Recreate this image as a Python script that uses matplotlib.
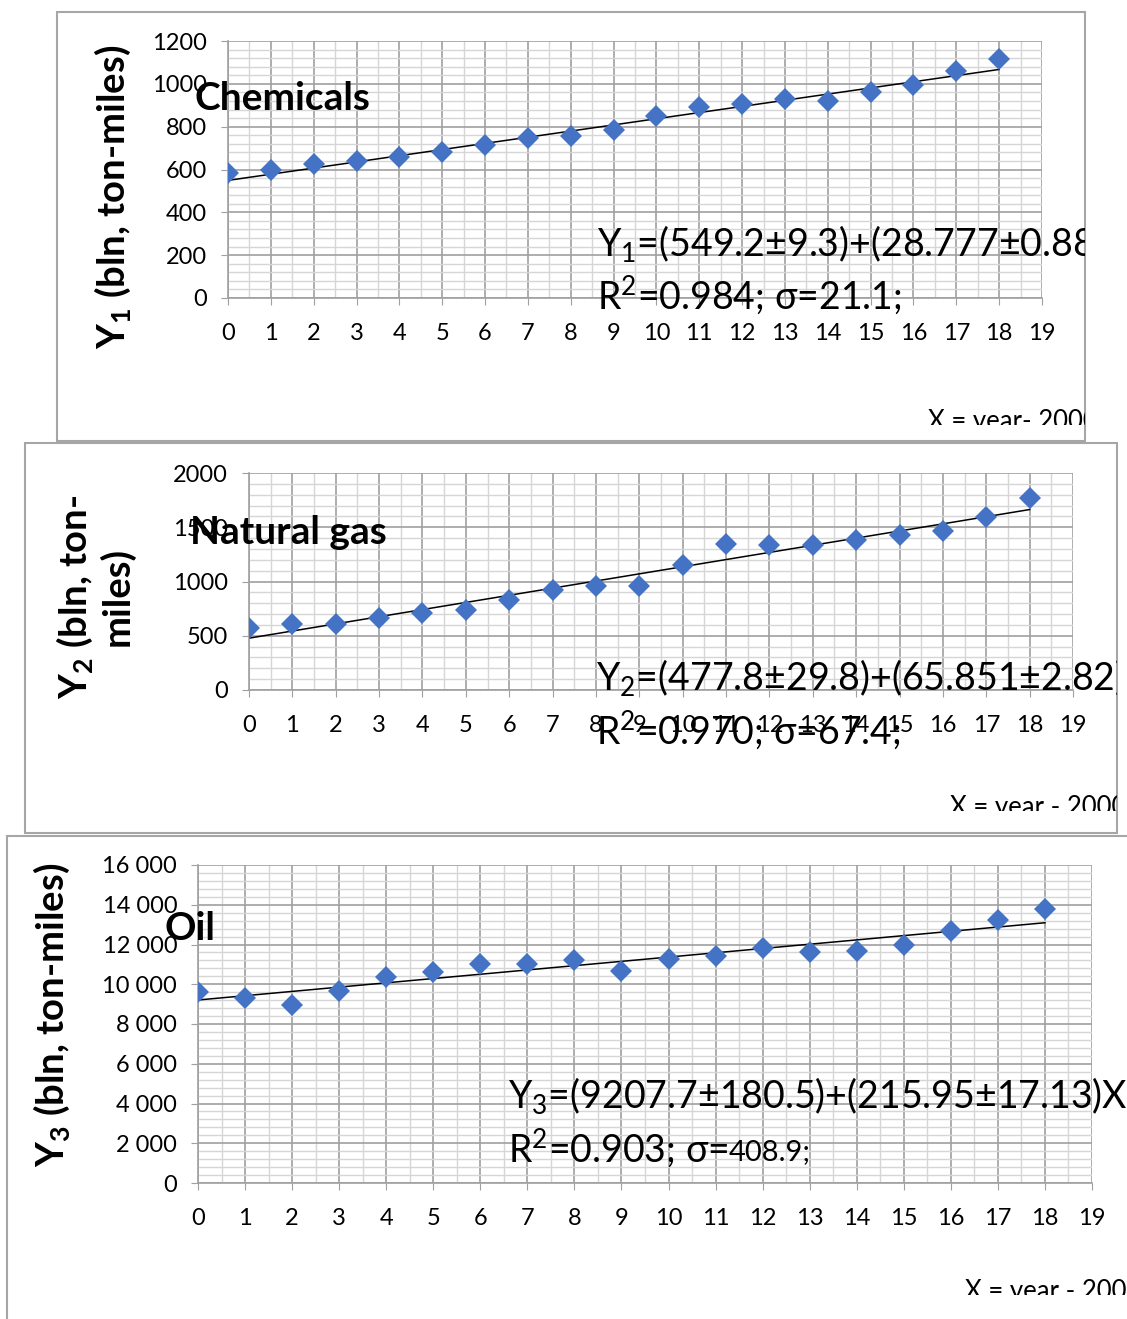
import numpy as np
import matplotlib.pyplot as plt
from matplotlib.patches import Rectangle
from matplotlib.ticker import MultipleLocator, FuncFormatter
from matplotlib.transforms import Bbox, TransformedBbox

plt.rcParams['font.family'] = ['Lato', 'DejaVu Sans']
plt.rcParams['mathtext.fontset'] = 'custom'
plt.rcParams['mathtext.rm'] = 'Lato'
plt.rcParams['mathtext.it'] = 'Lato:italic'
plt.rcParams['mathtext.bf'] = 'Lato:bold'

# X = year - 2000
years = np.arange(19)

chemicals = [585, 597, 628, 640, 659, 681, 715, 748, 758, 784,
             850, 891, 906, 927, 920, 964, 995, 1061, 1115]
natural_gas = [576, 606, 612, 661, 712, 736, 833, 918, 958, 958,
               1148, 1350, 1332, 1332, 1381, 1424, 1464, 1596, 1770]
oil = [9599, 9298, 8963, 9682, 10351, 10635, 11003, 11003, 11227, 10690,
       11278, 11429, 11815, 11647, 11681, 11966, 12655, 13210, 13798]

# linear fits Y = a + b*X
fit_chem = (549.2, 28.777)
fit_gas = (477.8, 65.851)
fit_oil = (9207.7, 215.95)

W, H = 1127, 1319
fig = plt.figure(figsize=(W / 100, H / 100), dpi=100)


def fx(x):
    return x / W


def fy(y):
    return 1 - y / H


def clip_box(l, t, r, b):
    return TransformedBbox(Bbox.from_extents(fx(l), fy(b), fx(r), fy(t)), fig.transFigure)


def panel(frame, axpos, y, fit, ymax, ystep, ylabel, ylab_xy, title, title_xy,
          eq1, eq2, eq_x, eq_y, xlab, xlab_xy, xlab_clip, fmt=None):
    l, t, r, b = frame
    fig.add_artist(Rectangle((fx(l), fy(b)), fx(r - l), (b - t) / H,
                             transform=fig.transFigure, facecolor='white',
                             edgecolor='#a6a6a6', lw=1.5, zorder=0))
    al, at, ar, ab = axpos
    ax = fig.add_axes([fx(al), fy(ab), fx(ar - al), (ab - at) / H])
    ax.set_xlim(0, 19)
    ax.set_ylim(0, ymax)
    ax.xaxis.set_major_locator(MultipleLocator(1))
    ax.xaxis.set_minor_locator(MultipleLocator(0.5))
    ax.yaxis.set_major_locator(MultipleLocator(ystep))
    ax.yaxis.set_minor_locator(MultipleLocator(ystep / 5))
    if fmt:
        ax.yaxis.set_major_formatter(FuncFormatter(fmt))
    ax.set_axisbelow(True)
    ax.grid(which='major', color='#a0a0a0', lw=1.2)
    ax.grid(which='minor', color='#d6d6d6', lw=1.0)
    for s in ['top', 'right']:
        ax.spines[s].set_visible(False)
    for s in ['left', 'bottom']:
        ax.spines[s].set_color('#a0a0a0')
        ax.spines[s].set_linewidth(1.2)
    ax.tick_params(which='major', direction='out', length=5, color='#a0a0a0',
                   labelsize=17)
    ax.tick_params(axis='x', which='major', pad=13)
    ax.tick_params(axis='y', which='major', pad=10)
    ax.tick_params(which='minor', length=0)
    ax.patch.set_alpha(0)

    ax.plot(years, y, 'D', color='#4472C4', ms=11.5, mew=0, zorder=3)
    a, k = fit
    xs = np.array([0, 18])
    ax.plot(xs, a + k * xs, color='black', lw=1.1, zorder=2)

    fig.text(fx(ylab_xy[0]), fy(ylab_xy[1]), ylabel, rotation=90, ha='center',
             va='center', multialignment='center', fontsize=27.5,
             fontweight='bold', linespacing=1.1)
    fig.text(fx(title_xy[0]), fy(title_xy[1]), title, ha='left', va='center',
             fontsize=28, fontweight='bold')

    box = clip_box(l, t, r, b)
    t1 = fig.text(fx(eq_x), fy(eq_y[0]), eq1, ha='left', va='center', fontsize=27)
    t1.set_clip_box(box)
    t2 = fig.text(fx(eq_x), fy(eq_y[1]), eq2, ha='left', va='center', fontsize=27)
    t2.set_clip_box(box)

    xl = fig.text(fx(xlab_xy[0]), fy(xlab_xy[1]), xlab, ha='left', va='center',
                  fontsize=18.5)
    xl.set_clip_box(clip_box(l, t, r, xlab_clip))
    return ax, t2


panel((57, 12, 1085, 441), (228, 41, 1042, 298), chemicals, fit_chem, 1200, 200,
      '$\\mathbf{Y}_\\mathbf{1}$ (bln, ton-miles)', (113, 197),
      'Chemicals', (195, 98),
      'Y$_1$=(549.2±9.3)+(28.777±0.88)X', 'R$^2$=0.984; σ=21.1;', 597, (243, 295),
      'X = year- 2000', (928, 422), 425)

panel((25, 443, 1117, 833), (249, 473, 1073, 690), natural_gas, fit_gas, 2000, 500,
      '$\\mathbf{Y}_\\mathbf{2}$ (bln, ton-\nmiles)', (95, 597),
      'Natural gas', (190, 533),
      'Y$_2$=(477.8±29.8)+(65.851±2.82)X', 'R$^2$=0.970; σ=67.4;', 596, (678, 730),
      'X = year - 2000', (950, 808), 811)

ax3, r2_oil = panel((7, 836, 1160, 1360), (198, 865, 1092, 1183), oil, fit_oil, 16000, 2000,
                    '$\\mathbf{Y}_\\mathbf{3}$ (bln, ton-miles)', (52, 1015),
                    'Oil', (165, 928),
                    'Y$_3$=(9207.7±180.5)+(215.95±17.13)X', 'R$^2$=0.903; σ=', 508, (1096, 1148),
                    'X = year - 2000', (965, 1291), 1295,
                    fmt=lambda v, p: f'{int(v):,}'.replace(',', ' '))
ax3.annotate('408.9;', xy=(1, 0.1), xycoords=r2_oil, ha='left', va='bottom',
             fontsize=21, annotation_clip=False)

fig.savefig('out.png', dpi=100)
